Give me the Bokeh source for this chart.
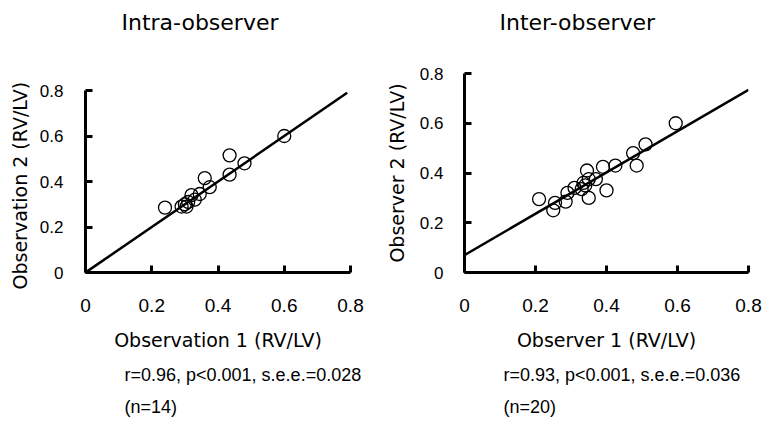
from bokeh.plotting import figure
from bokeh.layouts import row
from bokeh.models import Range1d, FixedTicker, Title, ColumnDataSource
from bokeh.embed import file_html
from bokeh.resources import INLINE

# ---- data ----
tick_values = [0, 0.2, 0.4, 0.6, 0.8]
tick_labels = ["0", "0.2", "0.4", "0.6", "0.8"]

intra_obs1 = [0.24, 0.29, 0.30, 0.305, 0.31, 0.32, 0.33, 0.345, 0.36, 0.375, 0.435, 0.435, 0.48, 0.60]
intra_obs2 = [0.285, 0.29, 0.30, 0.29, 0.31, 0.34, 0.32, 0.345, 0.415, 0.375, 0.43, 0.515, 0.48, 0.60]
intra_fit_slope = 1.0
intra_fit_intercept = 0.0
intra_fit_x = [0.005, 0.79]

inter_obs1 = [0.21, 0.25, 0.255, 0.285, 0.29, 0.31, 0.33, 0.335, 0.34, 0.345, 0.35, 0.35, 0.37, 0.39, 0.40, 0.425, 0.475, 0.485, 0.51, 0.595]
inter_obs2 = [0.295, 0.25, 0.28, 0.285, 0.32, 0.34, 0.335, 0.36, 0.35, 0.41, 0.375, 0.30, 0.375, 0.425, 0.33, 0.43, 0.48, 0.43, 0.515, 0.60]
inter_fit_slope = 0.83
inter_fit_intercept = 0.07
inter_fit_x = [0.0, 0.8]

panels = [
    dict(title="Intra-observer", xlabel="Observation 1 (RV/LV)", ylabel="Observation 2 (RV/LV)",
         stats="r=0.96, p<0.001, s.e.e.=0.028", n="(n=14)",
         x=intra_obs1, y=intra_obs2, slope=intra_fit_slope, icpt=intra_fit_intercept, fx=intra_fit_x),
    dict(title="Inter-observer", xlabel="Observer 1 (RV/LV)", ylabel="Observer 2 (RV/LV)",
         stats="r=0.93, p<0.001, s.e.e.=0.036", n="(n=20)",
         x=inter_obs1, y=inter_obs2, slope=inter_fit_slope, icpt=inter_fit_intercept, fx=inter_fit_x),
]

# ---- layout (pixels) ----
FRAME_H = 199
BORDER_TOP = 73
BORDER_BOTTOM = 150
layout_cfg = [
    # ylab_off: None -> ordinary axis label; number -> side title shifted along the axis
    dict(fw=266, axis_h=182, bl=84, br=30, title_off=36, text_off=39, ytick_sd=22, ylab_off=-17),
    dict(fw=284, axis_h=199, bl=84, br=14, title_off=35, text_off=39, ytick_sd=21, ylab_off=None),
]

figs = []
for d, c in zip(panels, layout_cfg):
    y_end = tick_values[-1] * FRAME_H / c["axis_h"]
    p = figure(width=c["bl"] + c["fw"] + c["br"], height=BORDER_TOP + FRAME_H + BORDER_BOTTOM,
               min_border_left=c["bl"], min_border_right=c["br"],
               min_border_top=BORDER_TOP, min_border_bottom=BORDER_BOTTOM,
               x_range=Range1d(0, tick_values[-1]), y_range=Range1d(0, y_end),
               output_backend="svg", toolbar_location=None,
               background_fill_color="white", border_fill_color="white")
    p.outline_line_color = None
    p.grid.visible = False

    # spacer (innermost) then the visible title (outermost) in the top panel
    p.add_layout(Title(text=" ", standoff=26, text_font="DejaVu Sans", text_font_size="10px"), "above")
    p.add_layout(Title(text=d["title"], align="left", offset=c["title_off"], standoff=0,
                       text_font="DejaVu Sans", text_font_size="22px", text_font_style="normal",
                       text_color="black"), "above")

    for ax in (p.xaxis[0], p.yaxis[0]):
        ax.ticker = FixedTicker(ticks=tick_values)
        ax.bounds = (tick_values[0], tick_values[-1])
        ax.major_label_overrides = {v: l for v, l in zip(tick_values, tick_labels)}
        ax.axis_line_width = 3
        ax.axis_line_color = "black"
        ax.major_tick_line_width = 3
        ax.major_tick_line_color = "black"
        ax.major_tick_in = 7
        ax.major_tick_out = 0
        ax.minor_tick_line_color = None
        ax.major_label_text_color = "black"
        ax.axis_label_text_color = "black"
        ax.axis_label_text_font_style = "normal"
        ax.axis_label_text_font = "DejaVu Sans"
        ax.axis_label_text_font_size = "19px"

    p.xaxis.axis_label = d["xlabel"]
    p.xaxis.major_label_text_font = "Liberation Sans"
    p.xaxis.major_label_text_font_size = "19px"
    p.xaxis.major_label_standoff = 26
    p.xaxis.axis_label_standoff = 14

    p.yaxis.major_label_text_font = "Liberation Sans"
    p.yaxis.major_label_text_font_size = "17px"
    p.yaxis.major_label_standoff = c["ytick_sd"]
    if c["ylab_off"] is None:
        p.yaxis.axis_label = d["ylabel"]
        p.yaxis.axis_label_standoff = 9
    else:
        p.add_layout(Title(text=d["ylabel"], align="left", offset=c["ylab_off"], standoff=12,
                           text_font="DejaVu Sans", text_font_size="19px",
                           text_font_style="normal", text_color="black"), "left")

    fy = [d["icpt"] + d["slope"] * xv for xv in d["fx"]]
    p.line(d["fx"], fy, line_color="black", line_width=2.5)
    src = ColumnDataSource(dict(x=d["x"], y=d["y"]))
    p.scatter("x", "y", source=src, marker="circle", size=13, fill_color=None,
              line_color="black", line_width=1.3)

    p.add_layout(Title(text=d["stats"], align="left", offset=c["text_off"], standoff=19,
                       text_font="Liberation Sans", text_font_size="18px",
                       text_font_style="normal", text_color="black"), "below")
    p.add_layout(Title(text=d["n"], align="left", offset=c["text_off"], standoff=1,
                       text_font="Liberation Sans", text_font_size="18px",
                       text_font_style="normal", text_color="black"), "below")
    figs.append(p)

layout = row(figs[0], figs[1], spacing=0)
open("out.html", "w").write(file_html(layout, INLINE))
